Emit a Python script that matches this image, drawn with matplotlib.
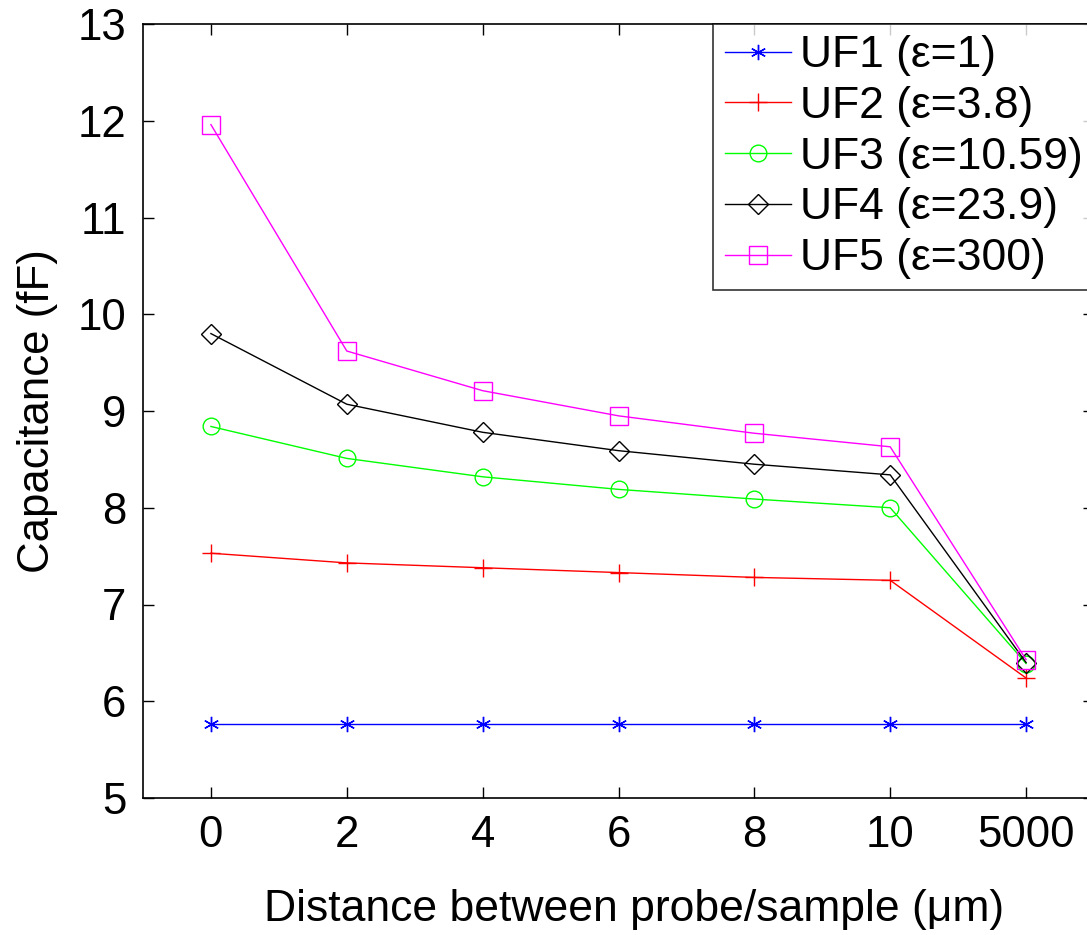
import matplotlib
matplotlib.use("Agg")
import matplotlib.pyplot as plt

plt.rcParams['font.family'] = ['Liberation Sans', 'DejaVu Sans']

# данные
x_labels = ['0', '2', '4', '6', '8', '10', '5000']
uf1 = [5.76, 5.76, 5.76, 5.76, 5.76, 5.76, 5.76]
uf2 = [7.53, 7.43, 7.38, 7.33, 7.28, 7.25, 6.24]
uf3 = [8.84, 8.51, 8.32, 8.19, 8.09, 8.00, 6.39]
uf4 = [9.80, 9.07, 8.78, 8.59, 8.45, 8.34, 6.40]
uf5 = [11.96, 9.62, 9.21, 8.95, 8.77, 8.63, 6.43]

names = ['UF1 (ε=1)', 'UF2 (ε=3.8)', 'UF3 (ε=10.59)', 'UF4 (ε=23.9)', 'UF5 (ε=300)']
colors = ['#0000ff', '#ff0000', '#00ff00', '#000000', '#ff00ff']
markers = [(6, 2, 0), '+', 'o', 'D', 's']
msizes = [11, 13, 12, 10, 13]

fig = plt.figure(figsize=(10.87, 9.35), dpi=100)
ax = fig.add_axes([143 / 1087, 137 / 935, 951 / 1087, 774 / 935])

xs = list(range(len(x_labels)))
for ys, name, c, m, ms in zip([uf1, uf2, uf3, uf4, uf5], names, colors, markers, msizes):
    ax.plot(xs, ys, color=c, marker=m, markersize=ms, markerfacecolor='none',
            markeredgecolor=c, markeredgewidth=1.0, linewidth=1.0, label=name)

ax.set_xlim(-0.5, 6.5)
ax.set_ylim(5, 13)
ax.set_xticks(xs)
ax.set_xticklabels(x_labels)
ax.set_yticks(range(5, 14))
ax.tick_params(direction='in', length=8, width=1, labelsize=31.5, pad=12,
               top=True, right=True)
for s in ax.spines.values():
    s.set_linewidth(1.2)

ax.set_xlabel('Distance between probe/sample (μm)', fontsize=32)
ax.xaxis.set_label_coords(0.516, -0.117, transform=ax.transAxes)
ax.xaxis.label.set_va('top')
ax.set_ylabel('Capacitance (fF)', fontsize=31.5, labelpad=14)

leg = ax.legend(loc='upper right', bbox_to_anchor=(1.0, 1.0), borderaxespad=0,
                fontsize=32, frameon=True, fancybox=False, edgecolor='black',
                handlelength=1.5, handletextpad=0.2, labelspacing=0.22,
                borderpad=0.25)
leg.get_frame().set_linewidth(1.2)

fig.savefig('out.png', dpi=100)
